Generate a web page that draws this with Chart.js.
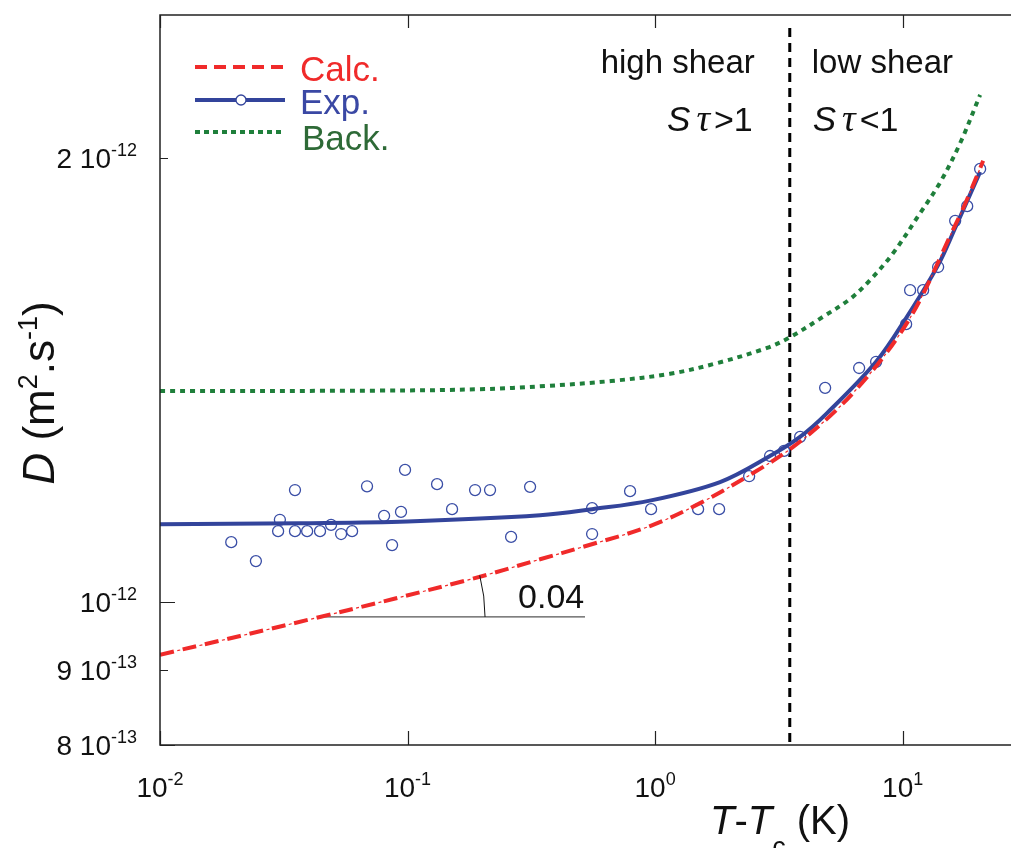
<!DOCTYPE html>
<html>
<head>
<meta charset="utf-8">
<script src="https://cdn.jsdelivr.net/npm/chart.js@4.4.0/dist/chart.umd.min.js"></script>
<style>
  html, body { margin: 0; padding: 0; background: #fff; }
  #c { display: block; }
</style>
</head>
<body>
<canvas id="c" width="1011" height="848"></canvas>
<script>
// D in units of 1e-12 m2/s, T-Tc in K
const calcT = [0.01, 0.0443, 0.1789, 0.343, 0.512, 0.954, 1.52, 2.489, 3.61, 5.24, 7.19, 9.50, 11.77, 15.56, 17.89, 21.15];
const calcD = [0.921, 0.977, 1.036, 1.069, 1.090, 1.126, 1.167, 1.223, 1.274, 1.343, 1.421, 1.510, 1.603, 1.771, 1.862, 1.991];

const expFitT = [0.01, 0.0368, 0.1, 0.343, 0.557, 0.963, 1.83, 2.91, 3.85, 4.95, 7.81, 10.33, 13.91, 16.30, 20.56];
const expFitD = [1.129, 1.131, 1.134, 1.145, 1.156, 1.172, 1.206, 1.256, 1.294, 1.343, 1.455, 1.558, 1.692, 1.793, 1.957];

const backT = [0.01, 0.0774, 0.1963, 0.3594, 0.664, 1.150, 1.780, 2.835, 3.512, 4.773, 6.136, 7.390, 9.154, 11.77, 14.17, 17.08, 20.56];
const backD = [1.390, 1.391, 1.394, 1.401, 1.412, 1.428, 1.452, 1.487, 1.512, 1.561, 1.605, 1.653, 1.724, 1.835, 1.925, 2.047, 2.207];

const expT = [0.0194, 0.0244, 0.0351, 0.0305, 0.0300, 0.0351, 0.0393, 0.0443, 0.0491, 0.0539, 0.0597, 0.0686, 0.0804, 0.0866,
  0.0941, 0.0977, 0.1316, 0.1513, 0.1874, 0.2154, 0.2620, 0.3126, 0.5566, 0.5566, 0.7924, 0.9634, 1.492, 1.814, 2.398,
  2.914, 3.320, 3.854, 4.863, 6.672, 7.814, 10.33, 10.72, 12.10, 13.91, 16.30, 18.23, 20.56];
const expD = [1.098, 1.066, 1.191, 1.137, 1.117, 1.117, 1.117, 1.117, 1.128, 1.112, 1.117, 1.198, 1.144, 1.093,
  1.151, 1.229, 1.202, 1.156, 1.191, 1.191, 1.107, 1.197, 1.158, 1.112, 1.189, 1.156, 1.156, 1.156, 1.217,
  1.256, 1.266, 1.294, 1.397, 1.441, 1.455, 1.543, 1.627, 1.627, 1.687, 1.813, 1.855, 1.966];

const shearT = 3.5;              // high / low shear boundary
const slopeRefT = [0.0443, 0.521];
const slopeRefD = 0.977;
const slopeArcT = 0.2056;
const slopeValue = 0.04;

const xTicks = [0.01, 0.1, 1, 10];
const xTickPow = ['-2', '-1', '0', '1'];
const yTicks = [0.8, 0.9, 1, 2];
const yTickMant = ['8 ', '9 ', '', '2 '];
const yTickPow = ['-13', '-13', '-12', '-12'];
const yTickMajor = [true, false, true, false];

const xRange = [0.01, 27.4];
const yRange = [0.8, 2.5];

const RED = '#f02a2a', BLUE = '#33449b', GREEN = '#1f7f3b', INK = '#111';
const FF = '"Liberation Sans", Arial, sans-serif';

const pts = (xs, ys) => xs.map((x, i) => ({ x, y: ys[i] }));

function drawRich(ctx, parts, x, y, align) {
  let w = 0;
  parts.forEach((p) => { ctx.font = p.font; p.w = ctx.measureText(p.t).width; w += p.w + (p.gap || 0); });
  let cx = align === 'right' ? x - w : align === 'center' ? x - w / 2 : x;
  parts.forEach((p) => {
    ctx.font = p.font;
    ctx.fillStyle = p.color || INK;
    ctx.fillText(p.t, cx, y + (p.dy || 0));
    cx += p.w + (p.gap || 0);
  });
}

const decor = {
  id: 'decor',
  afterDraw(chart) {
    const { ctx, chartArea: a, scales: { x, y } } = chart;
    ctx.save();
    ctx.textAlign = 'left';
    ctx.textBaseline = 'alphabetic';

    // frame (no right side, it is cut off)
    ctx.strokeStyle = '#222';
    ctx.lineWidth = 1.5;
    ctx.beginPath();
    ctx.moveTo(a.right + 2, a.top); ctx.lineTo(a.left, a.top);
    ctx.lineTo(a.left, a.bottom); ctx.lineTo(a.right + 2, a.bottom);
    ctx.stroke();

    // ticks
    ctx.lineWidth = 1.2;
    ctx.beginPath();
    xTicks.forEach((v) => {
      const px = Math.round(x.getPixelForValue(v)) + 0.5;
      ctx.moveTo(px, a.bottom); ctx.lineTo(px, a.bottom - 14);
      ctx.moveTo(px, a.top); ctx.lineTo(px, a.top + 13);
    });
    yTicks.forEach((v, i) => {
      const py = Math.round(y.getPixelForValue(v)) + 0.5;
      ctx.moveTo(a.left, py); ctx.lineTo(a.left + (yTickMajor[i] ? 15 : 8), py);
    });
    ctx.stroke();

    // tick labels with superscripts
    xTicks.forEach((v, i) => {
      drawRich(ctx, [
        { t: '10', font: `28px ${FF}` },
        { t: xTickPow[i], font: `18px ${FF}`, dy: -12 },
      ], x.getPixelForValue(v), a.bottom + 52, 'center');
    });
    yTicks.forEach((v, i) => {
      drawRich(ctx, [
        { t: yTickMant[i] + '10', font: `28px ${FF}` },
        { t: yTickPow[i], font: `18px ${FF}`, dy: -12 },
      ], a.left - 23, y.getPixelForValue(v) + 10, 'right');
    });

    // axis titles
    drawRich(ctx, [
      { t: 'T', font: `italic 40px ${FF}` },
      { t: '-', font: `40px ${FF}` },
      { t: 'T', font: `italic 40px ${FF}` },
      { t: 'c', font: `27px ${FF}`, dy: 22 },
      { t: ' (K)', font: `40px ${FF}` },
    ], 710, 834, 'left');

    ctx.save();
    ctx.translate(54, 393);
    ctx.rotate(-Math.PI / 2);
    drawRich(ctx, [
      { t: 'D', font: `italic 44px ${FF}` },
      { t: ' (m', font: `44px ${FF}` },
      { t: '2', font: `27px ${FF}`, dy: -17 },
      { t: '.s', font: `44px ${FF}` },
      { t: '-1', font: `27px ${FF}`, dy: -17 },
      { t: ')', font: `44px ${FF}` },
    ], 0, 0, 'center');
    ctx.restore();

    // legend
    const lx0 = 195, lx1 = 285;
    ctx.lineWidth = 4;
    ctx.strokeStyle = RED; ctx.setLineDash([12, 7]);
    ctx.beginPath(); ctx.moveTo(lx0, 67); ctx.lineTo(lx1, 67); ctx.stroke();
    ctx.strokeStyle = GREEN; ctx.setLineDash([5, 4]);
    ctx.beginPath(); ctx.moveTo(lx0, 132); ctx.lineTo(lx1, 132); ctx.stroke();
    ctx.setLineDash([]);
    ctx.strokeStyle = BLUE;
    ctx.beginPath(); ctx.moveTo(lx0, 100); ctx.lineTo(lx1, 100); ctx.stroke();
    ctx.lineWidth = 1.3; ctx.fillStyle = '#fff';
    ctx.beginPath(); ctx.arc(241, 100, 5, 0, Math.PI * 2); ctx.fill(); ctx.stroke();
    ctx.font = `35px ${FF}`;
    ctx.fillStyle = RED; ctx.fillText('Calc.', 300, 81);
    ctx.fillStyle = '#3a48a4'; ctx.fillText('Exp.', 300, 114);
    ctx.fillStyle = '#2e6a37'; ctx.fillText('Back.', 302, 150);

    // shear regime labels
    const bx = x.getPixelForValue(shearT);
    ctx.fillStyle = INK;
    ctx.font = `33px ${FF}`;
    ctx.textAlign = 'right'; ctx.fillText('high shear', bx - 35, 73);
    ctx.textAlign = 'left'; ctx.fillText('low shear', bx + 22, 73);
    const sPart = (op) => [
      { t: 'S', font: `italic 35px ${FF}`, gap: 6 },
      { t: 'τ', font: `italic 38px "Liberation Serif", serif`, gap: 4 },
      { t: op + '1', font: `34px ${FF}` },
    ];
    drawRich(ctx, sPart('>'), bx - 37, 131, 'right');
    drawRich(ctx, sPart('<'), bx + 23, 131, 'left');

    // slope arc + value
    const cx = x.getPixelForValue(slopeRefT[0]);
    const cy = y.getPixelForValue(slopeRefD);
    const ex = x.getPixelForValue(slopeArcT);
    const ey = y.getPixelForValue(slopeRefD * Math.pow(slopeArcT / slopeRefT[0], slopeValue));
    const r = ex - cx;
    const ang = Math.atan2(cy - ey, ex - cx);
    ctx.strokeStyle = INK; ctx.lineWidth = 1;
    ctx.beginPath(); ctx.arc(cx, cy, r, -ang - 0.02, 0); ctx.stroke();
    ctx.font = `34px ${FF}`;
    ctx.fillText(String(slopeValue), cx + r + 33, cy - 9);

    ctx.restore();
  },
};

const curve = { pointRadius: 0, tension: 0.35 };

new Chart(document.getElementById('c'), {
  type: 'line',
  data: {
    datasets: [
      { ...curve, data: pts(backT, backD), borderColor: GREEN, borderWidth: 4, borderDash: [5, 5] },
      { ...curve, data: pts(calcT, calcD), borderColor: RED, borderWidth: 1.2, borderDash: [3, 20], borderDashOffset: 5.5 },
      { ...curve, data: pts(calcT, calcD), borderColor: RED, borderWidth: 4, borderDash: [14, 9] },
      { ...curve, data: pts(expFitT, expFitD), borderColor: BLUE, borderWidth: 4 },
      { data: pts(expT, expD), showLine: false, pointRadius: 5.5, pointBorderWidth: 1.3, pointBorderColor: '#3a4ea6', pointBackgroundColor: '#fff' },
      { data: [{ x: shearT, y: 2.45 }, { x: shearT, y: yRange[0] }], borderColor: '#000', borderWidth: 3, borderDash: [9, 6], pointRadius: 0 },
      { data: [{ x: slopeRefT[0], y: slopeRefD }, { x: slopeRefT[1], y: slopeRefD }], borderColor: '#555', borderWidth: 1.3, pointRadius: 0 },
    ],
  },
  options: {
    responsive: false,
    devicePixelRatio: 1,
    animation: false,
    layout: { autoPadding: false, padding: { left: 160, top: 15, right: 0, bottom: 103 } },
    scales: {
      x: { type: 'logarithmic', min: xRange[0], max: xRange[1], display: false },
      y: { type: 'logarithmic', min: yRange[0], max: yRange[1], display: false },
    },
    plugins: { legend: { display: false }, tooltip: { enabled: false } },
  },
  plugins: [decor],
});
</script>
</body>
</html>
